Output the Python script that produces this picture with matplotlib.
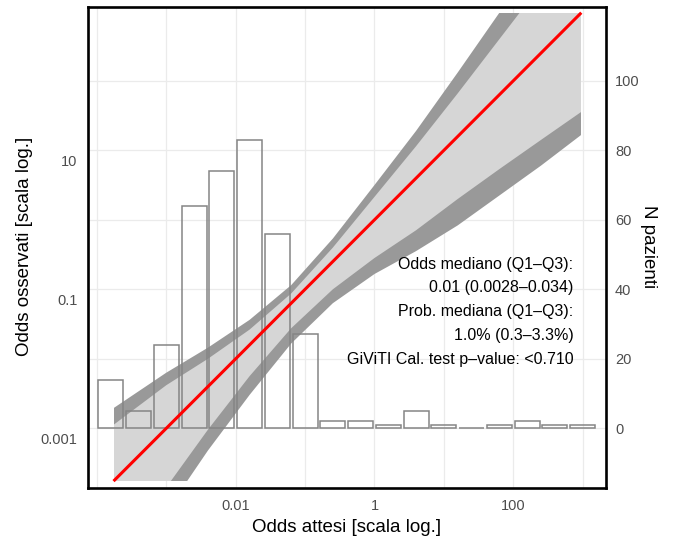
import numpy as np
import matplotlib
matplotlib.use("Agg")
import matplotlib.pyplot as plt
import matplotlib.transforms as mtransforms
from matplotlib.patches import Rectangle

plt.rcParams['font.family'] = ['Liberation Sans', 'DejaVu Sans']

# histogram: log10 of bin centres (expected odds) and number of patients
bin_log = [-3.8, -3.4, -3.0, -2.6, -2.2, -1.8, -1.4, -1.0, -0.6,
           -0.2, 0.2, 0.6, 1.0, 1.4, 1.8, 2.2, 2.6, 3.0]
counts = [14, 5, 24, 64, 74, 83, 56, 27, 2, 2, 1, 5, 1, 0, 1, 2, 1, 1]

# calibration belt (log10 odds), 80% and 95% limits
belt_x = [-3.76, -3.0, -2.4, -1.8, -1.2, -0.6, 0.0, 0.6, 1.2, 1.8, 2.4, 2.99]
up95 = [-2.71, -2.20, -1.84, -1.44, -0.94, -0.27, 0.50, 1.28, 2.12, 2.98, 3.85, 4.69]
up80 = [-2.95, -2.38, -2.00, -1.58, -1.06, -0.40, 0.33, 1.06, 1.82, 2.60, 3.38, 4.14]
lo80 = [-5.16, -3.85, -3.02, -2.25, -1.56, -1.00, -0.55, -0.15, 0.30, 0.73, 1.15, 1.56]
lo95 = [-5.56, -4.20, -3.32, -2.52, -1.78, -1.20, -0.78, -0.45, -0.08, 0.35, 0.78, 1.23]

# bisector range (log10 odds)
line_log = [-3.76, 2.98]

notes = ["Odds mediano (Q1\u2013Q3):",
         "0.01 (0.0028\u20130.034)",
         "Prob. mediana (Q1\u2013Q3):",
         "1.0% (0.3\u20133.3%)",
         "GiViTI Cal. test p\u2013value: <0.710"]

xlog_lim = (-4.128, 3.336)
ylog_lim = (-3.859, 3.062)

fig = plt.figure(figsize=(6.76, 5.40), dpi=100)
ax = fig.add_axes([88/676, 1-488/540, 518/676, 481/540])
ax.set_xscale('log')
ax.set_yscale('log')
ax.set_xlim(10**xlog_lim[0], 10**xlog_lim[1])
ax.set_ylim(10**ylog_lim[0], 10**ylog_lim[1])

# grid
for d in range(-4, 4):
    ax.axvline(10.0**d, color='#EBEBEB', lw=0.9, zorder=0)
for d in range(-3, 3):
    ax.axhline(10.0**d, color='#EBEBEB', lw=0.9, zorder=0)

# belt
bx = 10**np.array(belt_x)
clip = Rectangle((10**line_log[0], 10**line_log[0]),
                 10**line_log[1] - 10**line_log[0],
                 10**line_log[1] - 10**line_log[0],
                 transform=ax.transData, fill=False, visible=False)
ax.add_patch(clip)
outer = ax.fill_between(bx, 10**np.array(lo95), 10**np.array(up95),
                        color='#999999', lw=0, zorder=1)
inner = ax.fill_between(bx, 10**np.array(lo80), 10**np.array(up80),
                        color='#D6D6D6', lw=0, zorder=1.1)
outer.set_clip_path(clip)
inner.set_clip_path(clip)

# histogram bars (count 0 sits on 0.001, 20 patients per decade)
c = np.array(bin_log)
left = 10**(c - 0.18)
right = 10**(c + 0.18)
tops = 10**(-3 + np.array(counts) / 20)
ax.bar(left, tops - 1e-3, width=right - left, bottom=1e-3, align='edge',
       facecolor='none', edgecolor='#858585', lw=1.1, zorder=2)

# bisector
ln = 10**np.array(line_log)
ax.plot(ln, ln, color='red', lw=2.2, zorder=3, solid_capstyle='butt')

# axes styling
ax.set_xticks([1e-2, 1, 1e2], ['0.01', '1', '100'])
ax.set_yticks([1e-3, 1e-1, 1e1], ['0.001', '0.1', '10'])
ax.xaxis.set_minor_locator(matplotlib.ticker.NullLocator())
ax.yaxis.set_minor_locator(matplotlib.ticker.NullLocator())
ax.tick_params(axis='x', length=0, pad=8, labelsize=10.5, labelcolor='#4D4D4D')
ax.tick_params(axis='y', length=0, pad=7.5, labelsize=10.5, labelcolor='#4D4D4D')
shift = mtransforms.ScaledTranslation(0, -10/100, fig.dpi_scale_trans)
for lab in ax.get_yticklabels():
    lab.set_transform(lab.get_transform() + shift)
for s in ax.spines.values():
    s.set_color('black')
    s.set_linewidth(1.9)

ax2 = ax.twinx()
ax2.set_ylim(20 * (ylog_lim[0] + 3), 20 * (ylog_lim[1] + 3))
ax2.set_yticks([0, 20, 40, 60, 80, 100])
ax2.tick_params(axis='y', length=0, pad=6.5, labelsize=10.5, labelcolor='#4D4D4D')
for s in ax2.spines.values():
    s.set_visible(False)

# annotation
for i, t in enumerate(notes):
    y = 264 + i * 23.8
    ax.text((573.3 - 88) / 518, (488 - y) / 481, t, transform=ax.transAxes,
            ha='right', va='center', fontsize=11.5, color='black', zorder=5)

fig.text(346.5/676, 1 - 528/540, 'Odds attesi [scala log.]', ha='center', va='center', fontsize=13.5)
fig.text(25/676, 1 - 246.7/540, 'Odds osservati [scala log.]', ha='center', va='center',
         rotation=90, fontsize=13.5)
fig.text(649/676, 1 - 247/540, 'N pazienti', ha='center', va='center',
         rotation=-90, fontsize=13.5)

fig.savefig('out.png', dpi=100)
